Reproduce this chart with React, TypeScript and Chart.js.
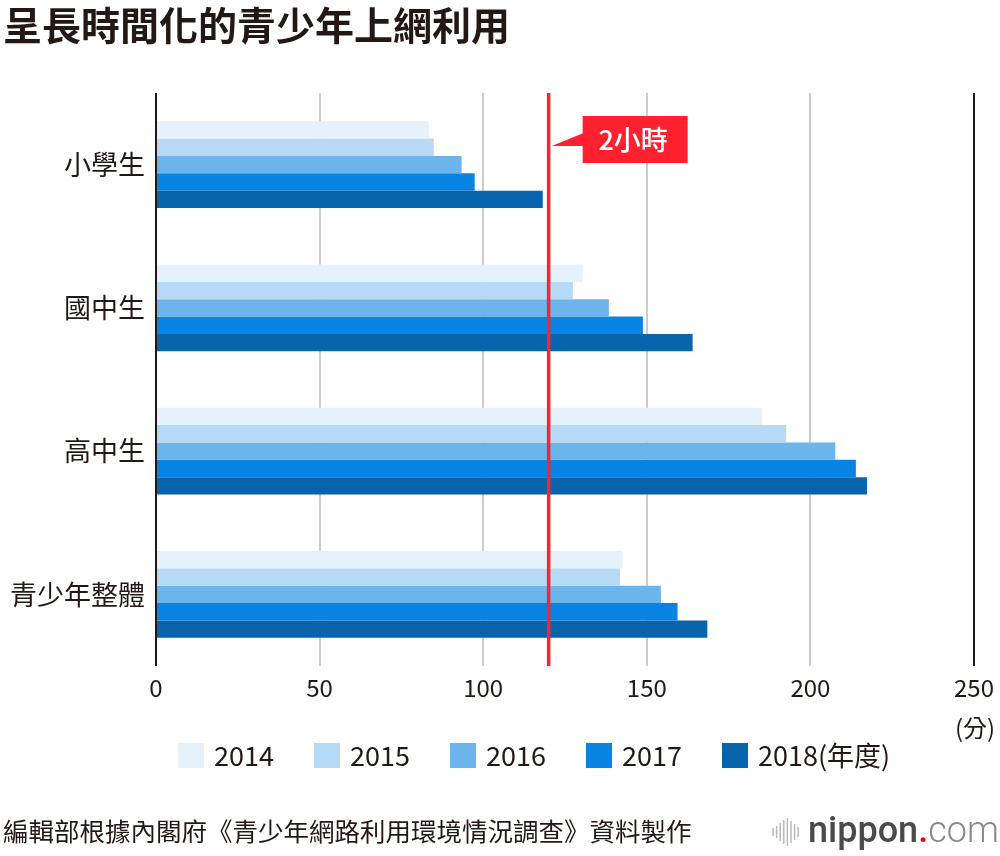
import React, { useEffect, useRef } from "react";
import { Chart, registerables } from "chart.js";

Chart.register(...registerables);

const titleText = "呈長時間化的青少年上網利用";
const categories = ["小學生", "國中生", "高中生", "青少年整體"];
const seriesLabels = ["2014", "2015", "2016", "2017", "2018(年度)"];
const values2014 = [83.4, 130.4, 185.2, 142.6];
const values2015 = [84.9, 127.4, 192.6, 141.8];
const values2016 = [93.4, 138.4, 207.6, 154.3];
const values2017 = [97.4, 148.8, 213.9, 159.4];
const values2018 = [118.2, 164.0, 217.3, 168.5];
const seriesColors = ["#e5f1fb", "#b6daf6", "#6bb5ec", "#0a84e2", "#0865ac"];
const xTicks = [0, 50, 100, 150, 200, 250];
const limitValue = 120;
const limitLabel = "2小時";
const unitLabel = "(分)";
const sourceText = "編輯部根據內閣府《青少年網路利用環境情況調查》資料製作";

const TEXT = "#231815";
const FONT = "'Noto Sans CJK TC', 'Noto Sans', sans-serif";

const overlayPlugin = {
  id: "overlay",
  afterDatasetsDraw(chart: any) {
    const { ctx, chartArea, scales } = chart;
    const x = scales.x.getPixelForValue(limitValue);
    ctx.save();
    ctx.strokeStyle = "#ff2030";
    ctx.lineWidth = 3.5;
    ctx.beginPath();
    ctx.moveTo(x, chartArea.top);
    ctx.lineTo(x, chartArea.bottom);
    ctx.stroke();

    const top = chartArea.top;
    const boxL = x + 34;
    const boxR = x + 139;
    const boxT = top + 23;
    const boxB = top + 70;
    ctx.fillStyle = "#ff2030";
    ctx.fillRect(boxL, boxT, boxR - boxL, boxB - boxT);
    ctx.beginPath();
    ctx.moveTo(x + 3, top + 53);
    ctx.lineTo(boxL + 1, top + 40);
    ctx.lineTo(boxL + 1, top + 53);
    ctx.closePath();
    ctx.fill();
    ctx.fillStyle = "#ffffff";
    ctx.font = `500 27px ${FONT}`;
    ctx.textAlign = "center";
    ctx.textBaseline = "middle";
    ctx.fillText(limitLabel, (boxL + boxR) / 2 - 2, (boxT + boxB) / 2);
    ctx.restore();
  },
  afterDraw(chart: any) {
    const { ctx, scales } = chart;
    ctx.save();
    // title
    ctx.fillStyle = TEXT;
    ctx.font = `bold 39px ${FONT}`;
    ctx.textAlign = "left";
    ctx.textBaseline = "middle";
    ctx.fillText(titleText, 3, 25);

    // unit
    ctx.font = `24px ${FONT}`;
    ctx.textAlign = "center";
    ctx.fillText(unitLabel, scales.x.getPixelForValue(xTicks[xTicks.length - 1]) + 1, 728);

    // legend
    const datasets = chart.data.datasets;
    let lx = 178;
    ctx.font = `27px ${FONT}`;
    ctx.textAlign = "left";
    datasets.forEach((ds: any) => {
      ctx.fillStyle = ds.backgroundColor;
      ctx.fillRect(lx, 743, 26, 25);
      ctx.fillStyle = TEXT;
      ctx.fillText(ds.label, lx + 36, 756);
      lx += 136;
    });

    // source
    ctx.font = `25.5px ${FONT}`;
    ctx.fillStyle = TEXT;
    ctx.fillText(sourceText, 3, 831);

    // logo
    const barH = [8, 12, 18, 24, 28, 22, 16, 10];
    ctx.strokeStyle = "#b8b8b8";
    ctx.lineWidth = 1.5;
    barH.forEach((h, i) => {
      const bx = 773 + i * 3.6;
      ctx.beginPath();
      ctx.moveTo(bx, 832 - h / 2);
      ctx.lineTo(bx, 832 + h / 2);
      ctx.stroke();
    });
    ctx.textBaseline = "alphabetic";
    ctx.font = `500 36px Roboto, 'Noto Sans', sans-serif`;
    ctx.fillStyle = "#4a4a4a";
    const nip = "nippon";
    ctx.fillText(nip, 808, 842);
    let w = ctx.measureText(nip).width;
    ctx.fillStyle = "#e60012";
    ctx.fillText(".", 808 + w, 842);
    w += ctx.measureText(".").width;
    ctx.font = `300 36px Roboto, 'Noto Sans', sans-serif`;
    ctx.fillStyle = "#8a8a8a";
    ctx.fillText("com", 808 + w, 842);
    ctx.restore();
  },
};

export default function App() {
  const ref = useRef<HTMLCanvasElement>(null);
  useEffect(() => {
    if (!ref.current) return;
    const series = [values2014, values2015, values2016, values2017, values2018];
    const chart = new Chart(ref.current, {
      type: "bar",
      data: {
        labels: categories,
        datasets: series.map((vals, i) => ({
          label: seriesLabels[i],
          data: vals,
          backgroundColor: seriesColors[i],
          borderWidth: 0,
          barPercentage: 1,
          categoryPercentage: 0.606,
        })),
      },
      options: {
        indexAxis: "y",
        responsive: false,
        animation: false,
        devicePixelRatio: 1,
        layout: { padding: { top: 93, right: 26, left: 0, bottom: 0 } },
        plugins: {
          legend: { display: false },
          title: { display: false },
          tooltip: { enabled: false },
        },
        scales: {
          x: {
            type: "linear",
            min: 0,
            max: 250,
            afterBuildTicks: (scale: any) => {
              scale.ticks = xTicks.map((v) => ({ value: v }));
            },
            afterFit: (scale: any) => {
              scale.height = 190;
              scale.paddingLeft = 0;
              scale.paddingRight = 0;
            },
            border: { display: false },
            grid: {
              drawTicks: false,
              color: (c: any) =>
                c.tick && (c.tick.value === 0 || c.tick.value === 250) ? TEXT : "#cccccc",
              lineWidth: 2,
            },
            ticks: {
              padding: 7,
              color: TEXT,
              font: { family: FONT, size: 24 },
              maxRotation: 0,
            },
          },
          y: {
            type: "category",
            afterFit: (scale: any) => {
              scale.width = 156;
              scale.paddingTop = 0;
              scale.paddingBottom = 0;
            },
            border: { display: false },
            grid: { display: false, drawTicks: false },
            ticks: {
              padding: 11,
              color: TEXT,
              font: { family: FONT, size: 27 },
            },
          },
        },
      },
      plugins: [overlayPlugin],
    });
    return () => chart.destroy();
  }, []);
  return (
    <div style={{ position: "absolute", left: 0, top: 0, width: 1000, height: 856, background: "#fff" }}>
      <canvas ref={ref} width={1000} height={856} style={{ width: 1000, height: 856, display: "block" }} />
    </div>
  );
}
